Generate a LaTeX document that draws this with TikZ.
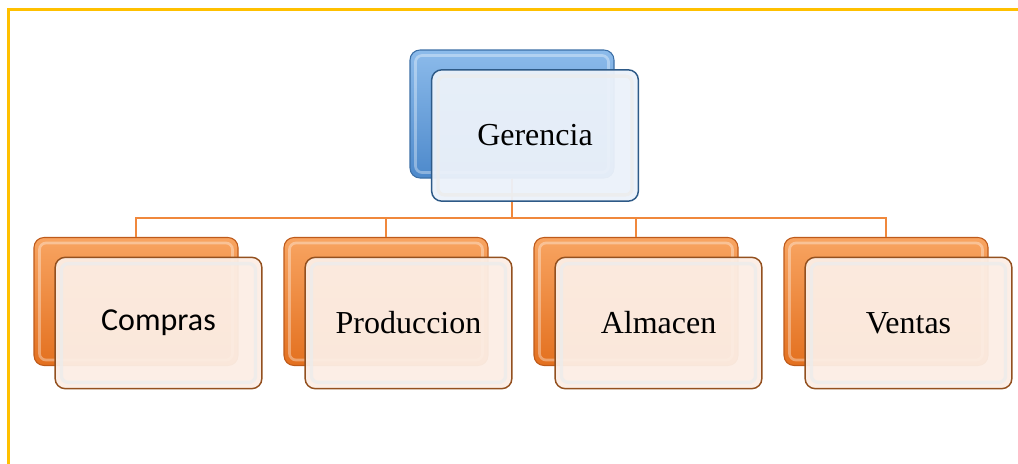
\documentclass[tikz,border=0pt]{standalone}
\usepackage{fontspec}
\setmainfont{Liberation Serif}
\newfontfamily\calib{Carlito}
\usetikzlibrary{positioning,calc}
\definecolor{bluetop}{HTML}{8CBBEB}
\definecolor{bluebot}{HTML}{4D89CB}
\definecolor{blueedge}{HTML}{3C6FA6}
\definecolor{orangetop}{HTML}{F8A461}
\definecolor{orangebot}{HTML}{E3701F}
\definecolor{orangeedge}{HTML}{BE5A1A}
\definecolor{frontblue}{HTML}{ECF2FA}
\definecolor{frontblueedge}{HTML}{2E5A87}
\definecolor{frontorange}{HTML}{FCEEE5}
\definecolor{frontorangeedge}{HTML}{93501F}
\definecolor{conn}{HTML}{F0883C}
\definecolor{frame}{HTML}{FFC000}
\tikzset{
  backbox/.style={rounded corners=7.5pt, minimum width=153pt, minimum height=96pt, inner sep=0pt, line width=0.8pt},
  backblue/.style={backbox, draw=blueedge, top color=bluetop, bottom color=bluebot},
  backorange/.style={backbox, draw=orangeedge, top color=orangetop, bottom color=orangebot},
  frontbox/.style={rounded corners=7.5pt, minimum width=155pt, minimum height=98.5pt, inner sep=0pt, line width=1.1pt, fill opacity=0.95, text opacity=1, font=\fontsize{24}{28}\selectfont},
  frontblue/.style={frontbox, draw=frontblueedge, fill=frontblue},
  frontorange/.style={frontbox, draw=frontorangeedge, fill=frontorange},
  bevel/.style={rounded corners=5pt, draw=gray!15, line width=2.5pt, opacity=0.8},
  backbevel/.style={rounded corners=5pt, draw=white, line width=2pt, opacity=0.35},
  link/.style={draw=conn, line width=1.5pt},
  framebar/.style={draw=frame, line width=2.4pt}
}
\begin{document}
\begin{tikzpicture}[x=0.75pt,y=-0.75pt]
\useasboundingbox (0,0) rectangle (1018,464);
\fill[white] (0,0) rectangle (1018,464);
\coordinate (fa) at (8.5,464);
\coordinate (fb) at (8.5,9.5);
\coordinate (fc) at (1018,9.5);
\draw[framebar] (fa) -- (fb) -- (fc);
% back boxes
\node[backblue] (gb) at (512,114) {};
\node[backorange] (cb) at (136,301.5) {};
\node[backorange] (pb) at (386,301.5) {};
\node[backorange] (ab) at (636,301.5) {};
\node[backorange] (vb) at (886,301.5) {};
\foreach \n in {gb,cb,pb,ab,vb}{
  \draw[backbevel] ([shift={(6,6)}]\n.north west) rectangle ([shift={(-6,-6)}]\n.south east);
}
% connectors
\foreach \c in {cb,pb,ab,vb}{
  \draw[link] (gb.south) -- ++(0,39) -| (\c.north);
}
% front boxes
\node[frontblue] (g) at (535,135.5) {Gerencia};
\node[frontorange] (c) at (158.5,323) {\calib Compras};
\node[frontorange] (p) at (408.5,323) {Produccion};
\node[frontorange] (a) at (658.5,323) {Almacen};
\node[frontorange] (v) at (908.5,323) {Ventas};
\foreach \n in {g,c,p,a,v}{
  \draw[bevel] ([shift={(7,7)}]\n.north west) rectangle ([shift={(-7,-7)}]\n.south east);
}
\end{tikzpicture}
\end{document}
